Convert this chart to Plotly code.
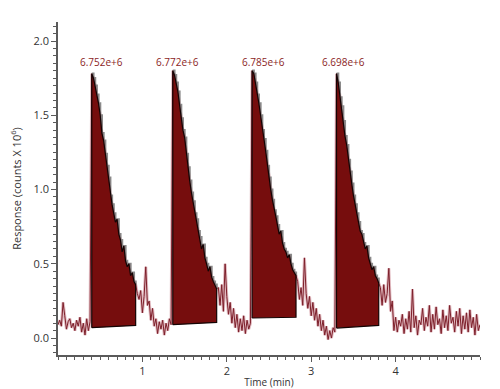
import plotly.graph_objects as go

# ---------------- data ----------------
time_min = [
    0.00, 0.02, 0.04, 0.06, 0.08, 0.10, 0.12, 0.14, 0.16, 0.18,
    0.20, 0.22, 0.24, 0.26, 0.28, 0.30, 0.32, 0.34, 0.36, 0.38,
    0.40, 0.42, 0.44, 0.46, 0.48, 0.50, 0.52, 0.54, 0.56, 0.58,
    0.60, 0.62, 0.64, 0.66, 0.68, 0.70, 0.72, 0.74, 0.76, 0.78,
    0.80, 0.82, 0.84, 0.86, 0.88, 0.90, 0.92, 0.94, 0.96, 0.98,
    1.00, 1.02, 1.04, 1.06, 1.08, 1.10, 1.12, 1.14, 1.16, 1.18,
    1.20, 1.22, 1.24, 1.26, 1.28, 1.30, 1.32, 1.34, 1.36, 1.38,
    1.40, 1.42, 1.44, 1.46, 1.48, 1.50, 1.52, 1.54, 1.56, 1.58,
    1.60, 1.62, 1.64, 1.66, 1.68, 1.70, 1.72, 1.74, 1.76, 1.78,
    1.80, 1.82, 1.84, 1.86, 1.88, 1.90, 1.92, 1.94, 1.96, 1.98,
    2.00, 2.02, 2.04, 2.06, 2.08, 2.10, 2.12, 2.14, 2.16, 2.18,
    2.20, 2.22, 2.24, 2.26, 2.28, 2.30, 2.32, 2.34, 2.36, 2.38,
    2.40, 2.42, 2.44, 2.46, 2.48, 2.50, 2.52, 2.54, 2.56, 2.58,
    2.60, 2.62, 2.64, 2.66, 2.68, 2.70, 2.72, 2.74, 2.76, 2.78,
    2.80, 2.82, 2.84, 2.86, 2.88, 2.90, 2.92, 2.94, 2.96, 2.98,
    3.00, 3.02, 3.04, 3.06, 3.08, 3.10, 3.12, 3.14, 3.16, 3.18,
    3.20, 3.22, 3.24, 3.26, 3.28, 3.30, 3.32, 3.34, 3.36, 3.38,
    3.40, 3.42, 3.44, 3.46, 3.48, 3.50, 3.52, 3.54, 3.56, 3.58,
    3.60, 3.62, 3.64, 3.66, 3.68, 3.70, 3.72, 3.74, 3.76, 3.78,
    3.80, 3.82, 3.84, 3.86, 3.88, 3.90, 3.92, 3.94, 3.96, 3.98,
    4.00, 4.02, 4.04, 4.06, 4.08, 4.10, 4.12, 4.14, 4.16, 4.18,
    4.20, 4.22, 4.24, 4.26, 4.28, 4.30, 4.32, 4.34, 4.36, 4.38,
    4.40, 4.42, 4.44, 4.46, 4.48, 4.50, 4.52, 4.54, 4.56, 4.58,
    4.60, 4.62, 4.64, 4.66, 4.68, 4.70, 4.72, 4.74, 4.76, 4.78,
    4.80, 4.82, 4.84, 4.86, 4.88, 4.90, 4.92, 4.94, 4.96, 4.98,
    5.00,
]

# response (counts x 10^6), segment by segment
lead_in = [0.09, 0.12, 0.08, 0.24, 0.15, 0.06, 0.11, 0.13, 0.07, 0.10,
           0.05, 0.12, 0.08, 0.14, 0.04, 0.10, 0.02, 0.13, 0.05, 0.11]
peak1 = [1.78, 1.75, 1.70, 1.64, 1.58, 1.50, 1.38, 1.33, 1.24, 1.16,
         1.08, 0.96, 0.90, 0.84, 0.78, 0.80, 0.70, 0.66, 0.58, 0.62,
         0.52, 0.48, 0.50, 0.42, 0.44, 0.38, 0.36]
gap1 = [0.30, 0.26, 0.32, 0.17, 0.28, 0.48, 0.22, 0.25, 0.12, 0.20,
        0.08, 0.13, 0.03, 0.11, 0.06, 0.12, 0.02, 0.10, 0.05, 0.13, 0.09]
peak2 = [1.80, 1.77, 1.72, 1.66, 1.57, 1.48, 1.40, 1.35, 1.24, 1.15,
         1.06, 0.98, 0.92, 0.84, 0.80, 0.72, 0.68, 0.60, 0.63, 0.54,
         0.50, 0.45, 0.48, 0.41, 0.38, 0.36, 0.33]
gap2 = [0.34, 0.22, 0.36, 0.18, 0.50, 0.28, 0.16, 0.24, 0.10, 0.20,
        0.07, 0.16, 0.04, 0.13, 0.05, 0.15, 0.03, 0.12, 0.06, 0.10]
peak3 = [1.80, 1.78, 1.72, 1.64, 1.58, 1.50, 1.40, 1.34, 1.26, 1.16,
         1.08, 1.00, 0.93, 0.86, 0.82, 0.76, 0.70, 0.72, 0.64, 0.60,
         0.58, 0.54, 0.56, 0.50, 0.46, 0.44, 0.42]
gap3 = [0.38, 0.26, 0.34, 0.22, 0.54, 0.30, 0.20, 0.28, 0.15, 0.24,
        0.12, 0.20, 0.08, 0.16, 0.05, 0.12, 0.02, 0.08, -0.01, 0.05,
        0.00, 0.07, 0.04]
peak4 = [1.78, 1.72, 1.62, 1.56, 1.46, 1.36, 1.30, 1.20, 1.12, 1.04,
         0.96, 0.90, 0.84, 0.78, 0.72, 0.70, 0.64, 0.60, 0.62, 0.54,
         0.50, 0.46, 0.48, 0.42, 0.40, 0.37]
tail = [0.34, 0.22, 0.36, 0.24, 0.30, 0.47, 0.18, 0.25, 0.05, 0.14,
        0.04, 0.12, 0.08, 0.16, 0.03, 0.13, 0.06, 0.18, 0.04, 0.33,
        0.07, 0.15, 0.02, 0.12, 0.09, 0.20, 0.05, 0.14, 0.08, 0.22,
        0.04, 0.16, 0.06, 0.21, 0.09, 0.13, 0.03, 0.19, 0.07, 0.15,
        0.05, 0.22, 0.10, 0.14, 0.04, 0.18, 0.08, 0.20, 0.03, 0.15,
        0.06, 0.17, 0.04, 0.19, 0.07, 0.14, 0.02, 0.16, 0.05, 0.09]

response = lead_in + peak1 + gap1 + peak2 + gap2 + peak3 + gap3 + peak4 + tail
assert len(response) == len(time_min)

# integrated peaks
peak_start = [0.40, 1.36, 2.30, 3.30]
peak_end = [0.92, 1.88, 2.82, 3.80]
base_start = [0.070, 0.090, 0.135, 0.067]
base_end = [0.085, 0.105, 0.140, 0.085]
peak_areas = ["6.752e+6", "6.772e+6", "6.785e+6", "6.698e+6"]
label_time = [0.51, 1.41, 2.43, 3.38]
label_level = 1.86

x_ticks = [1, 2, 3, 4]
y_ticks = [0.0, 0.5, 1.0, 1.5, 2.0]

# ---------------- figure ----------------
FONT = "Open Sans"
fig = go.Figure()

# soft halo of the noisy trace
fig.add_trace(go.Scatter(x=time_min, y=response, mode="lines",
                         line=dict(color="rgba(205,140,150,0.6)", width=3),
                         hoverinfo="skip", showlegend=False))
fig.add_trace(go.Scatter(x=time_min, y=response, mode="lines",
                         line=dict(color="#7d1f2a", width=1),
                         showlegend=False))

for s, e, b0, b1 in zip(peak_start, peak_end, base_start, base_end):
    idx = [i for i, t in enumerate(time_min) if s - 1e-9 <= t <= e + 1e-9]
    # grey shadow edge on the decaying flank
    fig.add_trace(go.Scatter(x=[time_min[i] for i in idx],
                             y=[response[i] for i in idx], mode="lines",
                             line=dict(color="rgba(110,110,110,0.8)", width=2.2, shape="hv"),
                             showlegend=False, hoverinfo="skip"))
    px = [s] + [time_min[i] for i in idx] + [e, s]
    py = [b0] + [response[i] for i in idx] + [b1, b0]
    fig.add_trace(go.Scatter(x=px, y=py, mode="lines", fill="toself",
                             fillcolor="#760d0d",
                             line=dict(color="#140404", width=1.2),
                             showlegend=False))

for t, txt in zip(label_time, peak_areas):
    fig.add_annotation(x=t, y=label_level, text=txt, showarrow=False,
                       font=dict(family=FONT, size=10, color="#8b1e1e"),
                       xanchor="center", yanchor="middle")

axis_common = dict(showgrid=False, zeroline=False, showline=True,
                   linecolor="#5a5a5a", linewidth=1.5, ticks="outside",
                   tickcolor="#5a5a5a", ticklen=5, tickwidth=1, automargin=False,
                   tickfont=dict(family=FONT, size=11, color="#333333"))

fig.update_xaxes(range=[0, 5], tickvals=x_ticks,
                 minor=dict(dtick=0.1, ticks="outside", ticklen=3, tickcolor="#5a5a5a"),
                 title=dict(text="Time (min)", font=dict(family=FONT, size=10, color="#333333"),
                            standoff=2),
                 **axis_common)
fig.update_yaxes(range=[-0.114, 2.128], tickvals=y_ticks, tickformat=".1f",
                 minor=dict(dtick=0.05, ticks="outside", ticklen=3, tickcolor="#5a5a5a"),
                 title=dict(text="Response (counts X 10<sup>6</sup>)",
                            font=dict(family=FONT, size=11, color="#333333"),
                            standoff=12),
                 **axis_common)

# the page places the figure 8 px in from the top-left corner
fig.update_layout(width=492, height=381,
                  margin=dict(l=50, r=20, t=14, b=34),
                  paper_bgcolor="white", plot_bgcolor="white",
                  font=dict(family=FONT))

fig.write_html("out.html")
